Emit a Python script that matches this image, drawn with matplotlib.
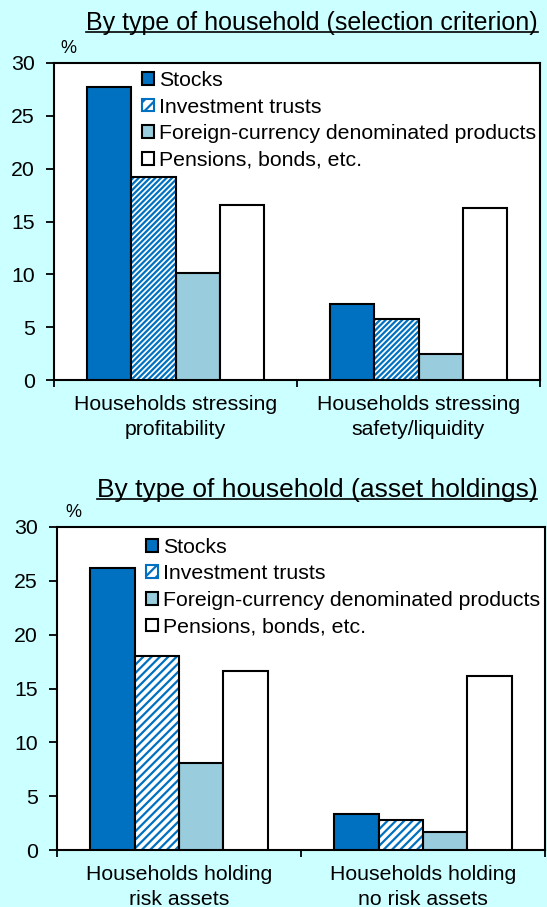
import numpy as np
import matplotlib
matplotlib.use('Agg')
import matplotlib.pyplot as plt
from matplotlib.patches import Patch
from matplotlib.lines import Line2D

plt.rcParams['font.family'] = ['Liberation Sans', 'DejaVu Sans']
plt.rcParams['hatch.linewidth'] = 1.6

series = ['Stocks', 'Investment trusts', 'Foreign-currency denominated products', 'Pensions, bonds, etc.']

top_title = 'By type of household (selection criterion)'
top_cats = ['Households stressing\nprofitability', 'Households stressing\nsafety/liquidity']
top_stocks = [27.7, 7.2]
top_trusts = [19.2, 5.8]
top_foreign = [10.1, 2.5]
top_pensions = [16.6, 16.3]

bot_title = 'By type of household (asset holdings)'
bot_cats = ['Households holding\nrisk assets', 'Households holding\nno risk assets']
bot_stocks = [26.2, 3.3]
bot_trusts = [18.0, 2.8]
bot_foreign = [8.1, 1.7]
bot_pensions = [16.6, 16.2]

bg = '#CCFFFF'
c_stock = '#0070C0'
c_foreign = '#99CCDD'

fig = plt.figure(figsize=(5.47, 9.07), dpi=100, facecolor=bg)


def panel(rect, title, tsize, cats, vals, hatch, title_xy, pct_xy, leg_anchor):
    ax = fig.add_axes(rect)
    ax.set_facecolor('white')
    x = np.arange(len(cats))
    w = 0.182
    offs = [-1.5 * w, -0.5 * w, 0.5 * w, 1.5 * w]
    ax.bar(x + offs[0], vals[0], w, color=c_stock, edgecolor='black', linewidth=1.5, zorder=3)
    ax.bar(x + offs[1], vals[1], w, color='white', edgecolor=c_stock, hatch=hatch, linewidth=0, zorder=3)
    ax.bar(x + offs[1], vals[1], w, fill=False, edgecolor='black', linewidth=1.5, zorder=4)
    ax.bar(x + offs[2], vals[2], w, color=c_foreign, edgecolor='black', linewidth=1.5, zorder=3)
    ax.bar(x + offs[3], vals[3], w, color='white', edgecolor='black', linewidth=1.5, zorder=3)

    ax.set_xlim(-0.5, 1.5)
    ax.set_ylim(0, 30)
    ax.set_yticks(range(0, 31, 5))
    ax.set_xticks([-0.5, 0.5, 1.5])
    ax.set_xticklabels([])
    ax.set_xticks(x, minor=True)
    ax.set_xticklabels(cats, minor=True, fontsize=15.3, linespacing=1.35)
    ax.tick_params(axis='x', which='minor', length=0, pad=11)
    ax.tick_params(axis='x', which='major', direction='out', length=5, width=1.3)
    ax.tick_params(axis='y', direction='out', length=6, width=1.3, labelsize=15.3, pad=8)
    for s in ax.spines.values():
        s.set_linewidth(1.5)
        s.set_color('black')

    handles = [Patch(facecolor=c_stock, edgecolor='black', linewidth=1.5),
               Patch(facecolor='white', edgecolor=c_stock, hatch='///', linewidth=1.5),
               Patch(facecolor=c_foreign, edgecolor='black', linewidth=1.5),
               Patch(facecolor='white', edgecolor='black', linewidth=1.5)]
    ax.legend(handles, series, loc='upper left', bbox_to_anchor=leg_anchor, frameon=False,
              fontsize=15.3, handlelength=0.55, handleheight=0.55, handletextpad=0.25,
              labelspacing=0.36, borderaxespad=0, borderpad=0)

    t = fig.text(title_xy[0], title_xy[1], title, fontsize=tsize, ha='center', va='baseline')
    fig.text(pct_xy[0], pct_xy[1], '%', fontsize=13, ha='center', va='baseline')
    return t


t1 = panel([54 / 547, 1 - 380 / 907, 486 / 547, 317 / 907], top_title, 18, top_cats,
           [top_stocks, top_trusts, top_foreign, top_pensions], '//////',
           (312 / 547, 1 - 30 / 907), (68 / 547, 1 - 53 / 907), (0.181, 0.975))
t2 = panel([57 / 547, 1 - 850 / 907, 488 / 547, 323 / 907], bot_title, 19, bot_cats,
           [bot_stocks, bot_trusts, bot_foreign, bot_pensions], '////',
           (317 / 547, 1 - 497 / 907), (73 / 547, 1 - 517 / 907), (0.182, 0.967))

# underline the titles
fig.canvas.draw()
r = fig.canvas.get_renderer()
inv = fig.transFigure.inverted()
for t in (t1, t2):
    bb = t.get_window_extent(renderer=r)
    (x0, y0), (x1, y1) = inv.transform([(bb.x0, bb.y0), (bb.x1, bb.y1)])
    yl = y0 + 0.003
    fig.add_artist(Line2D([x0, x1], [yl, yl], transform=fig.transFigure, color='black', linewidth=1.2))

fig.savefig('out.png', dpi=100, facecolor=bg)
